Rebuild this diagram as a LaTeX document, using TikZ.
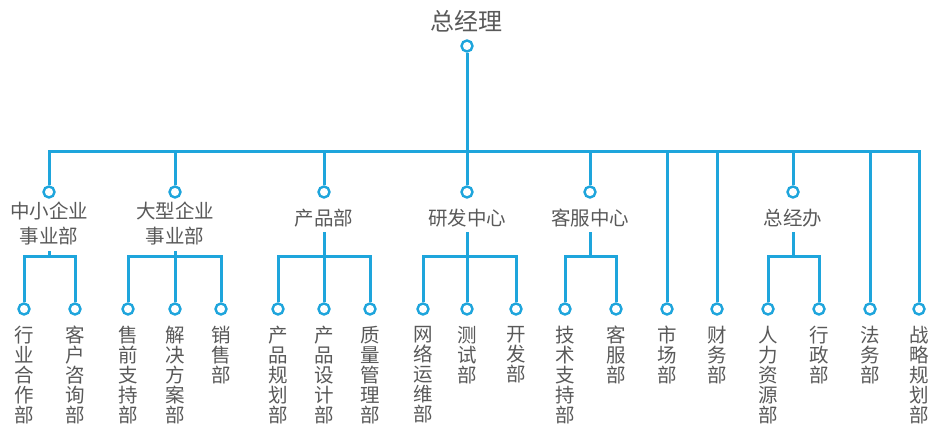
\documentclass[tikz,border=0pt]{standalone}
\usepackage{fontspec}
\setmainfont{Noto Sans CJK SC}
\definecolor{orgblue}{HTML}{1EA5DC}
\definecolor{orggray}{HTML}{595959}
\begin{document}
\begin{tikzpicture}[x=1pt, y=-1pt, link/.style={draw=orgblue,line width=3pt},
  dot/.style={circle,draw=orgblue,fill=white,line width=2.4pt,minimum size=11pt,inner sep=0pt},
  head/.style={text=orggray,font=\fontsize{24}{28}\selectfont},
  unit/.style={text=orggray,align=center,inner sep=5pt,font=\fontsize{19.5}{25}\selectfont},
  leaf/.style={text=orggray,align=center,inner sep=0pt,anchor=north,font=\fontsize{19.5}{20}\selectfont}]
\useasboundingbox (0,0) rectangle (941,438);
\begin{scope}
\node[head] (gm) at (466,21) {总经理};
\node[dot] (gmdot) at (467,46) {};
\coordinate (bar) at (467,152);
\draw[link] (gmdot) -- (bar);
\end{scope}
% departments
\begin{scope}
\foreach \name/\x/\y/\txt in {smb/49/224/{中小企业\\事业部}, ent/175/224/{大型企业\\事业部},
    prod/324/218/{产品部}, rd/467/218/{研发中心}, cs/590/218/{客服中心}, office/793/218/{总经办}}{
  \node[dot] (\name dot) at (\x,192) {};
  \node[unit] (\name) at (\x,\y) {\txt};
  \coordinate (\name J) at (\x,256);
  \draw[link] (bar) -| (\name dot);
  \draw[link] (\name) -- (\name J);
}
\end{scope}
% sections
\begin{scope}
\foreach \from/\x/\txt [count=\i] in {smbJ/24/{行\\业\\合\\作\\部}, smbJ/75/{客\\户\\咨\\询\\部},
    entJ/128/{售\\前\\支\\持\\部}, entJ/175/{解\\决\\方\\案\\部}, entJ/221/{销\\售\\部},
    prodJ/278/{产\\品\\规\\划\\部}, prodJ/324/{产\\品\\设\\计\\部}, prodJ/370/{质\\量\\管\\理\\部},
    rdJ/423/{网\\络\\运\\维\\部}, rdJ/467/{测\\试\\部}, rdJ/516/{开\\发\\部},
    csJ/565/{技\\术\\支\\持\\部}, csJ/616/{客\\服\\部},
    bar/667/{市\\场\\部}, bar/717/{财\\务\\部},
    officeJ/768/{人\\力\\资\\源\\部}, officeJ/819/{行\\政\\部},
    bar/870/{法\\务\\部}, bar/919/{战\\略\\规\\划\\部}}{
  \node[dot] (s\i) at (\x,309) {};
  \node[leaf] (t\i) at (\x,326) {\txt};
  \draw[link] (\from) -| (s\i);
}
\end{scope}
\end{tikzpicture}
\end{document}
